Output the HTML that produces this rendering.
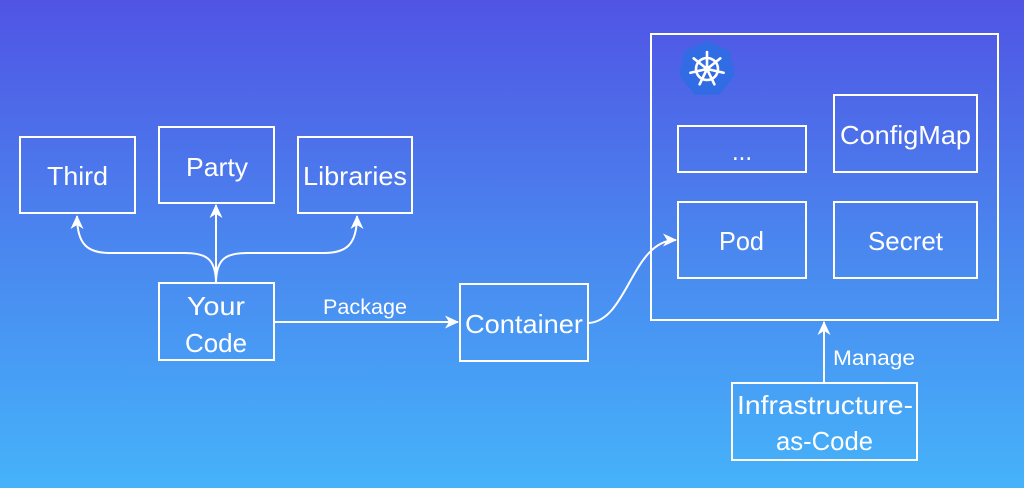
<!DOCTYPE html>
<html><head><meta charset="utf-8"><style>
html,body{margin:0;padding:0;}
body{width:1024px;height:488px;overflow:hidden;}
svg{display:block;}
text{font-family:"Liberation Sans","DejaVu Sans",sans-serif;fill:#fff;}
</style></head><body>
<svg width="1024" height="488" viewBox="0 0 1024 488" xmlns="http://www.w3.org/2000/svg">
<defs>
<linearGradient id="bg" x1="0" y1="0" x2="0" y2="1">
<stop offset="0" stop-color="#5054e4"/>
<stop offset="0.5" stop-color="#4a86ef"/>
<stop offset="1" stop-color="#45b3fa"/>
</linearGradient>
<marker id="ah" markerWidth="16" markerHeight="16" refX="13" refY="8" orient="auto" markerUnits="userSpaceOnUse">
<path d="M0,1.5 L14,8 L0,14.5 L4,8 z" fill="#fff"/>
</marker>
</defs>
<rect width="1024" height="488" fill="url(#bg)"/>
<g fill="none" stroke="#fff" stroke-width="2">
<rect x="20" y="137" width="115" height="76"/>
<rect x="159" y="127" width="115" height="76"/>
<rect x="298" y="137" width="114" height="76"/>
<rect x="159" y="283" width="115" height="77"/>
<rect x="460" y="284" width="128" height="77"/>
<rect x="651" y="34" width="347" height="286"/>
<rect x="678" y="126" width="128" height="46"/>
<rect x="834" y="95" width="143" height="77"/>
<rect x="678" y="202" width="128" height="76"/>
<rect x="834" y="202" width="143" height="76"/>
<rect x="732" y="383" width="185" height="77"/>
</g>
<g fill="none" stroke="#fff" stroke-width="2" marker-end="url(#ah)">
<path d="M216,283 C216,258 205,253 185,253 L110,253 C88,253 77,245 77,216"/>
<path d="M216,283 L216,205"/>
<path d="M216,283 C216,258 227,253 247,253 L324,253 C346,253 357,245 357,216"/>
<path d="M274,322 L458,322"/>
<path d="M589,323 C628,320 632,240 676,240"/>
<path d="M824,382 L824,322"/>
</g>
<!-- k8s logo -->
<g transform="translate(707,69)">
<polygon points="0,-27 21.1,-16.8 26.3,6 11.7,24.3 -11.7,24.3 -26.3,6 -21.1,-16.8" fill="#326ce5" stroke="#326ce5" stroke-width="3" stroke-linejoin="round"/>
<g stroke="#fff" stroke-width="2.6" fill="none" stroke-linecap="round">
<circle r="11"/>
<line x1="0" y1="0" x2="0" y2="-17"/>
<line x1="0" y1="0" x2="0" y2="-17" transform="rotate(51.43)"/>
<line x1="0" y1="0" x2="0" y2="-17" transform="rotate(102.86)"/>
<line x1="0" y1="0" x2="0" y2="-17" transform="rotate(154.29)"/>
<line x1="0" y1="0" x2="0" y2="-17" transform="rotate(205.71)"/>
<line x1="0" y1="0" x2="0" y2="-17" transform="rotate(257.14)"/>
<line x1="0" y1="0" x2="0" y2="-17" transform="rotate(308.57)"/>
</g>
<circle r="3.5" fill="#fff"/>
</g>
<g font-size="26">
<text x="47" y="185" textLength="61" lengthAdjust="spacingAndGlyphs">Third</text>
<text x="186" y="176" textLength="62" lengthAdjust="spacingAndGlyphs">Party</text>
<text x="303" y="185" textLength="104" lengthAdjust="spacingAndGlyphs">Libraries</text>
<text x="187" y="315" textLength="58" lengthAdjust="spacingAndGlyphs">Your</text>
<text x="185" y="352" textLength="62" lengthAdjust="spacingAndGlyphs">Code</text>
<text x="465" y="333" textLength="118" lengthAdjust="spacingAndGlyphs">Container</text>
<text x="840" y="144" textLength="131" lengthAdjust="spacingAndGlyphs">ConfigMap</text>
<text x="719" y="250" textLength="45" lengthAdjust="spacingAndGlyphs">Pod</text>
<text x="868" y="250" textLength="75" lengthAdjust="spacingAndGlyphs">Secret</text>
<text x="732" y="160" textLength="20" lengthAdjust="spacingAndGlyphs">...</text>
<text x="737" y="414" textLength="176" lengthAdjust="spacingAndGlyphs">Infrastructure-</text>
<text x="776" y="450" textLength="97" lengthAdjust="spacingAndGlyphs">as-Code</text>
</g>
<g font-size="21">
<text x="323" y="314" textLength="84" lengthAdjust="spacingAndGlyphs">Package</text>
<text x="833" y="365" textLength="82" lengthAdjust="spacingAndGlyphs">Manage</text>
</g>
</svg>
</body></html>
